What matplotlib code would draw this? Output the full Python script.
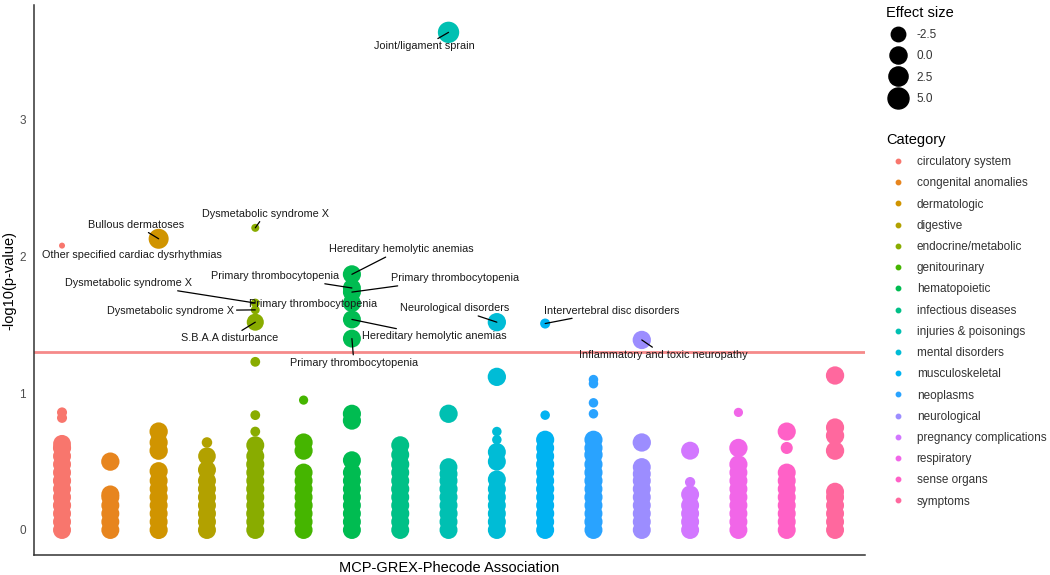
import numpy as np
import matplotlib
matplotlib.use("Agg")
import matplotlib.pyplot as plt
from matplotlib.lines import Line2D

plt.rcParams['font.family'] = ['Liberation Sans', 'DejaVu Sans']

categories = [
    "circulatory system", "congenital anomalies", "dermatologic", "digestive",
    "endocrine/metabolic", "genitourinary", "hematopoietic", "infectious diseases",
    "injuries & poisonings", "mental disorders", "musculoskeletal", "neoplasms",
    "neurological", "pregnancy complications", "respiratory", "sense organs",
    "symptoms",
]

# -log10(p) for each phecode, grouped by category (same order as categories)
logp = [
    [0.00, 0.06, 0.12, 0.18, 0.24, 0.30, 0.36, 0.42, 0.48, 0.54, 0.60, 0.63, 0.82, 0.86, 2.08],
    [0.00, 0.06, 0.12, 0.18, 0.24, 0.26, 0.50],
    [0.00, 0.06, 0.12, 0.18, 0.24, 0.30, 0.36, 0.43, 0.58, 0.64, 0.72, 2.13],
    [0.00, 0.06, 0.12, 0.18, 0.24, 0.30, 0.36, 0.44, 0.54, 0.64],
    [0.00, 0.06, 0.12, 0.18, 0.24, 0.30, 0.36, 0.42, 0.48, 0.54, 0.62, 0.72, 0.84, 1.23, 1.52, 1.61, 1.66, 2.21],
    [0.00, 0.06, 0.12, 0.18, 0.24, 0.30, 0.36, 0.42, 0.58, 0.64, 0.95],
    [0.00, 0.06, 0.12, 0.18, 0.24, 0.30, 0.36, 0.42, 0.51, 0.80, 0.85, 1.40, 1.54, 1.66, 1.74, 1.77, 1.87],
    [0.00, 0.06, 0.12, 0.18, 0.24, 0.30, 0.36, 0.42, 0.48, 0.55, 0.62],
    [0.00, 0.06, 0.12, 0.18, 0.24, 0.30, 0.36, 0.41, 0.46, 0.85, 3.64],
    [0.00, 0.06, 0.12, 0.18, 0.24, 0.30, 0.37, 0.50, 0.57, 0.66, 0.72, 1.12, 1.52],
    [0.00, 0.06, 0.12, 0.18, 0.24, 0.30, 0.36, 0.42, 0.48, 0.54, 0.60, 0.66, 0.84, 1.51],
    [0.00, 0.06, 0.12, 0.18, 0.24, 0.30, 0.36, 0.42, 0.48, 0.55, 0.60, 0.66, 0.85, 0.93, 1.07, 1.10],
    [0.00, 0.06, 0.12, 0.18, 0.24, 0.30, 0.36, 0.41, 0.46, 0.64, 1.39],
    [0.00, 0.06, 0.12, 0.18, 0.26, 0.35, 0.58],
    [0.00, 0.06, 0.12, 0.18, 0.24, 0.30, 0.36, 0.42, 0.48, 0.60, 0.86],
    [0.00, 0.06, 0.12, 0.18, 0.24, 0.30, 0.36, 0.42, 0.60, 0.72],
    [0.00, 0.06, 0.12, 0.18, 0.24, 0.28, 0.58, 0.69, 0.75, 1.13],
]

# effect size of each phecode, matching logp
effect = [
    [1.0, 1.0, 1.0, 1.2, 1.0, 1.0, 1.2, 1.0, 1.0, 1.0, 1.2, 0.8, -5.2, -5.2, -6.0],
    [1.0, 1.0, 1.0, 1.0, 1.0, 1.0, 1.4],
    [1.2, 1.0, 1.0, 1.0, 1.2, 1.0, 1.0, 1.2, 1.4, 1.2, 1.4, 3.6],
    [1.0, 1.0, 1.0, 1.0, 1.0, 1.0, 1.0, 1.0, 0.6, -5.0],
    [1.0, 1.0, 1.2, 1.0, 1.0, 1.2, 1.0, 1.0, 1.2, 1.0, 1.0, -5.3, -5.3, -5.3, 0.0, -5.6, -5.6, -5.8],
    [1.0, 1.0, 1.0, 1.2, 1.0, 1.0, 1.0, 1.0, 1.2, 1.2, -5.5],
    [1.0, 1.0, 1.0, 1.0, 1.0, 1.0, 1.0, 1.0, 1.0, 1.2, 1.2, 1.0, 1.0, 1.0, 1.0, 1.0, 1.2],
    [1.0, 1.0, 1.2, 1.0, 1.0, 1.2, 1.0, 1.0, 1.2, 1.0, 1.0],
    [1.0, 1.0, 1.2, 1.0, 1.0, 1.2, 1.0, 1.0, 0.8, 1.4, 5.5],
    [1.0, 1.0, 1.0, 1.0, 1.0, 1.0, 1.0, 1.0, 1.0, -5.4, -5.4, 1.4, 1.4],
    [1.0, 1.0, 1.2, 1.0, 1.0, 1.2, 1.0, 1.0, 1.2, 1.0, 1.0, 1.2, -5.4, -5.2],
    [1.0, 1.2, 1.0, 1.0, 1.2, 1.0, 1.2, 1.2, 1.2, 1.4, 1.2, 1.2, -5.4, -5.4, -5.4, -5.4],
    [1.0, 1.0, 1.0, 1.0, 1.0, 1.0, 1.0, 1.0, 1.0, 1.4, 1.4],
    [1.0, 1.0, 1.0, 1.0, 1.0, -5.1, 1.0],
    [1.0, 1.0, 1.0, 1.0, 1.0, 1.0, 1.0, 1.0, 1.2, 1.4, -5.5],
    [1.0, 1.0, 1.0, 1.0, 1.0, 1.0, 1.0, 1.0, -4.2, 1.2],
    [1.0, 1.0, 1.0, 1.0, 1.0, 1.0, 1.4, 1.4, 1.2, 1.4],
]

# labelled phecodes: category number (1-based), -log10(p), text
label_cat = [9, 3, 1, 5, 7, 7, 7, 7, 5, 5, 5, 7, 7, 10, 11, 13]
label_logp = [3.64, 2.13, 2.08, 2.21, 1.87, 1.77, 1.74, 1.66, 1.66, 1.61, 1.52, 1.54, 1.40, 1.52, 1.51, 1.39]
label_text = [
    "Joint/ligament sprain", "Bullous dermatoses", "Other specified cardiac dysrhythmias",
    "Dysmetabolic syndrome X", "Hereditary hemolytic anemias", "Primary thrombocytopenia",
    "Primary thrombocytopenia", "Primary thrombocytopenia", "Dysmetabolic syndrome X",
    "Dysmetabolic syndrome X", "S.B.A.A disturbance", "Hereditary hemolytic anemias",
    "Primary thrombocytopenia", "Neurological disorders", "Intervertebral disc disorders",
    "Inflammatory and toxic neuropathy",
]
# label placement (pixel offsets from the point) and whether a segment is drawn
label_offset = [(-24, -14), (-23, 14), (70, -9), (10, 14), (49, 25), (-77, 12), (103, 14),
                (-39, -1), (-127, 20), (-85, -1), (-26, -16), (82, -17), (2, -24),
                (-42, 14), (67, 13), (22, -15)]
label_segment = [True, True, False, True, True, True, True, False, True, True, True,
                 True, True, True, True, True]

legend_effects = [-2.5, 0.0, 2.5, 5.0]
threshold = -np.log10(0.05)


def hue_pal(n, c=100.0, l=65.0):
    # ggplot2 default discrete palette (hcl colour wheel)
    wu, wv, wy = 0.1978398, 0.4683363, 100.0
    out = []
    for i in range(n):
        h = np.deg2rad(15 + i * 360.0 / n)
        U, V = c * np.cos(h), c * np.sin(h)
        Y = wy * ((l + 16) / 116) ** 3
        u = U / (13 * l) + wu
        v = V / (13 * l) + wv
        X = 9.0 * Y * u / (4 * v)
        Z = -X / 3 - 5 * Y + 3 * Y / v
        rgb = []
        for a, b, cc in [(3.240479, -1.537150, -0.498535),
                         (-0.969256, 1.875992, 0.041556),
                         (0.055648, -0.204043, 1.057311)]:
            t = (a * X + b * Y + cc * Z) / wy
            t = 1.055 * t ** (1 / 2.4) - 0.055 if t > 0.00304 else 12.92 * t
            rgb.append(min(max(t, 0), 1))
        out.append(tuple(rgb))
    return out


def effect_to_px(e):
    e = np.asarray(e, dtype=float)
    return 6 + 16 * np.sqrt(np.clip((e + 6) / 12.5, 0, 1))


colors = hue_pal(len(categories))

fig = plt.figure(figsize=(10.5, 5.75), dpi=100)
ax = fig.add_axes([34 / 1050, 20 / 575, 831 / 1050, 550 / 575])

for i, (ys, es) in enumerate(zip(logp, effect)):
    xs = np.full(len(ys), i + 1)
    ax.scatter(xs, ys, s=(effect_to_px(es) * 0.72) ** 2, color=colors[i],
               linewidths=0, zorder=2)

ax.axhline(threshold, color='#F58A8A', lw=2.0, zorder=1)

for c, y, t, (dx, dy), seg in zip(label_cat, label_logp, label_text, label_offset, label_segment):
    kw = {}
    if seg:
        kw['arrowprops'] = dict(arrowstyle='-', color='black', lw=0.9, shrinkA=0, shrinkB=0)
    ax.annotate(t, xy=(c, y), xytext=(dx, dy), textcoords='offset pixels',
                ha='center', va='center', fontsize=7.8, color='#1a1a1a', zorder=4, **kw)

ax.set_xlim(0.42, 17.62)
ax.set_ylim(-0.183, 3.84)
ax.set_xticks([])
ax.set_yticks([0, 1, 2, 3])
ax.tick_params(axis='y', length=0, pad=6, labelsize=8.5, labelcolor='#4d4d4d')
for side in ['top', 'right']:
    ax.spines[side].set_visible(False)
for side in ['left', 'bottom']:
    ax.spines[side].set_color('#333333')
    ax.spines[side].set_linewidth(1.1)
ax.set_xlabel("MCP-GREX-Phecode Association", fontsize=10.5, labelpad=4)
ax.set_ylabel("-log10(p-value)", fontsize=10.5)
ax.yaxis.set_label_coords(-18 / 831, 0.5)

size_handles = [Line2D([], [], marker='o', linestyle='', color='black',
                       markersize=float(effect_to_px(e)) * 0.72) for e in legend_effects]
leg1 = fig.legend(size_handles, [f"{e:.1f}" for e in legend_effects],
                  loc='upper left', bbox_to_anchor=(886 / 1050, 1 - 6 / 575),
                  frameon=False, borderpad=0, borderaxespad=0, title="Effect size",
                  title_fontsize=10.5, fontsize=8.5, alignment='left',
                  handlelength=2.0, handletextpad=0.6, labelspacing=0.78)

cat_handles = [Line2D([], [], marker='o', linestyle='', color=col, markersize=3.2)
               for col in colors]
leg2 = fig.legend(cat_handles, categories,
                  loc='upper left', bbox_to_anchor=(886 / 1050, 1 - 133 / 575),
                  frameon=False, borderpad=0, borderaxespad=0, title="Category",
                  title_fontsize=10.5, fontsize=8.5, alignment='left',
                  handlelength=2.0, handletextpad=0.6, labelspacing=0.78)
for leg in (leg1, leg2):
    for txt in leg.get_texts():
        txt.set_color('#333333')

fig.savefig("out.png", dpi=100)
